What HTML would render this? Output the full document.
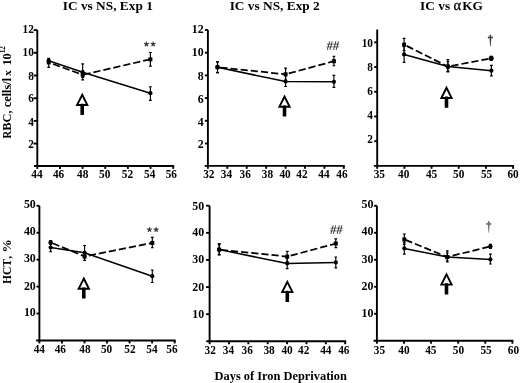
<!DOCTYPE html>
<html><head><meta charset="utf-8"><title>Figure</title>
<style>
html,body{margin:0;padding:0;background:#fff;}
body{width:520px;height:383px;overflow:hidden;font-family:"Liberation Serif",serif;}
svg{display:block;will-change:transform;font-family:"Liberation Serif",serif;}
.ax{fill:none;stroke:#000;stroke-width:1.9;stroke-linecap:butt;}
.tk{fill:none;stroke:#000;stroke-width:1.9;}
.lb{font-size:12.7px;font-weight:bold;fill:#000;}
.tt{font-size:13.35px;font-weight:bold;fill:#000;}
.at{font-size:12.4px;font-weight:bold;fill:#000;}
.ln{fill:none;stroke:#000;stroke-width:1.55;stroke-linejoin:round;}
.dash{stroke-dasharray:7.2 3;stroke-width:1.75;}
.eb{fill:none;stroke:#000;stroke-width:1.15;}
.mk{fill:#000;stroke:none;}
.ah{fill:#fff;stroke:#000;stroke-width:1.9;stroke-linejoin:miter;}
.st{fill:none;stroke:#333;stroke-width:1.15;stroke-linecap:round;}
.sg{font-size:13px;font-weight:bold;fill:#333;}
</style></head><body>
<svg width="520" height="383" viewBox="0 0 520 383">
<rect width="520" height="383" fill="#fff"/>
<text x="107.8" y="10.2" class="tt" text-anchor="middle">IC vs NS, Exp 1</text>
<text x="274.7" y="10.2" class="tt" text-anchor="middle">IC vs NS, Exp 2</text>
<text x="420.1" y="10.3" class="tt" text-anchor="start">IC vs <tspan font-weight="normal" font-size="14.4" stroke="#000" stroke-width="0.3">α</tspan><tspan dx="1.2">KG</tspan></text>
<text transform="translate(10.7 138.4) rotate(-90) scale(0.85 1)" class="at">R</text>
<text transform="translate(10.7 139.7) rotate(-90)" class="at"><tspan x="8.95">BC, cells/l</tspan><tspan x="63.8" font-size="11.4">x</tspan><tspan x="74.1">10</tspan><tspan x="86.4" dy="-5.3" font-size="7.2">12</tspan></text>
<text transform="translate(10.7 284.0) rotate(-90)" class="at"><tspan x="0" font-size="11.5">HCT</tspan><tspan dx="1.1" font-size="11.5">,</tspan><tspan x="31.6" font-size="13.2">%</tspan></text>
<text x="280.7" y="380.2" class="at" text-anchor="middle">Days of Iron Deprivation</text>
<path d="M37.30 30.10V166.00M34.00 166.00H174.15" class="ax"/>
<path d="M37.30 166.00v2.9" class="tk"/>
<text transform="translate(37.00 177.80) scale(0.89 1)" class="lb" text-anchor="middle">44</text>
<path d="M59.95 166.00v2.9" class="tk"/>
<text transform="translate(58.55 177.80) scale(0.89 1)" class="lb" text-anchor="middle">46</text>
<path d="M82.60 166.00v2.9" class="tk"/>
<text transform="translate(82.70 177.80) scale(0.89 1)" class="lb" text-anchor="middle">48</text>
<path d="M105.25 166.00v2.9" class="tk"/>
<text transform="translate(104.75 177.80) scale(0.89 1)" class="lb" text-anchor="middle">50</text>
<path d="M127.90 166.00v2.9" class="tk"/>
<text transform="translate(127.40 177.80) scale(0.89 1)" class="lb" text-anchor="middle">52</text>
<path d="M150.55 166.00v2.9" class="tk"/>
<text transform="translate(149.75 177.80) scale(0.89 1)" class="lb" text-anchor="middle">54</text>
<path d="M173.20 166.00v2.9" class="tk"/>
<text transform="translate(171.30 177.80) scale(0.89 1)" class="lb" text-anchor="middle">56</text>
<path d="M37.30 143.60h-3.7" class="tk"/>
<text transform="translate(33.90 147.50) scale(0.89 1)" class="lb" text-anchor="end">2</text>
<path d="M37.30 120.90h-3.7" class="tk"/>
<text transform="translate(33.90 125.50) scale(0.89 1)" class="lb" text-anchor="end">4</text>
<path d="M37.30 98.20h-3.7" class="tk"/>
<text transform="translate(33.90 102.40) scale(0.89 1)" class="lb" text-anchor="end">6</text>
<path d="M37.30 75.50h-3.7" class="tk"/>
<text transform="translate(33.90 79.50) scale(0.89 1)" class="lb" text-anchor="end">8</text>
<path d="M37.30 52.80h-3.7" class="tk"/>
<text transform="translate(33.90 56.20) scale(0.89 1)" class="lb" text-anchor="end">10</text>
<path d="M37.30 30.10h-3.7" class="tk"/>
<text transform="translate(33.90 33.30) scale(0.89 1)" class="lb" text-anchor="end">12</text>
<path d="M48.70 62.40L82.70 74.80" class="ln dash" style="stroke-dashoffset:5.55"/>
<path d="M82.70 74.80L150.40 59.30" class="ln dash" style="stroke-dashoffset:9.40"/>
<path d="M48.70 60.40V67.30M47.30 60.40h2.8M47.30 67.30h2.8" class="eb"/>
<rect x="46.70" y="60.40" width="4.0" height="4.0" class="mk"/>
<path d="M82.70 70.80V79.90M81.30 70.80h2.8M81.30 79.90h2.8" class="eb"/>
<rect x="80.70" y="72.80" width="4.0" height="4.0" class="mk"/>
<path d="M150.40 52.50V66.10M149.00 52.50h2.8M149.00 66.10h2.8" class="eb"/>
<rect x="148.40" y="57.30" width="4.0" height="4.0" class="mk"/>
<path d="M48.70 60.70 L82.70 72.30 L150.40 93.20" class="ln"/>
<path d="M48.70 58.40V63.00M47.30 58.40h2.8M47.30 63.00h2.8" class="eb"/>
<circle cx="48.70" cy="60.70" r="2.1" class="mk"/>
<path d="M82.70 63.90V77.30M81.30 63.90h2.8M81.30 77.30h2.8" class="eb"/>
<circle cx="82.70" cy="72.30" r="2.1" class="mk"/>
<path d="M150.40 86.70V100.40M149.00 86.70h2.8M149.00 100.40h2.8" class="eb"/>
<circle cx="150.40" cy="93.20" r="2.1" class="mk"/>
<path d="M82.20 94.80L87.35 105.05H77.05Z" class="ah"/>
<rect x="80.40" y="103.70" width="3.6" height="11.2" rx="0.6" class="mk"/>
<path d="M146.45 44.10L146.45 41.95M146.45 44.10L148.49 43.44M146.45 44.10L147.71 45.84M146.45 44.10L145.19 45.84M146.45 44.10L144.41 43.44" class="st"/>
<path d="M153.15 44.10L153.15 41.95M153.15 44.10L155.19 43.44M153.15 44.10L154.41 45.84M153.15 44.10L151.89 45.84M153.15 44.10L151.11 43.44" class="st"/>
<path d="M207.90 30.00V165.90M204.60 165.90H344.75" class="ax"/>
<path d="M207.90 165.90v2.9" class="tk"/>
<text transform="translate(208.80 177.70) scale(0.89 1)" class="lb" text-anchor="middle">32</text>
<path d="M227.31 165.90v2.9" class="tk"/>
<text transform="translate(226.51 177.70) scale(0.89 1)" class="lb" text-anchor="middle">34</text>
<path d="M246.73 165.90v2.9" class="tk"/>
<text transform="translate(245.13 177.70) scale(0.89 1)" class="lb" text-anchor="middle">36</text>
<path d="M266.14 165.90v2.9" class="tk"/>
<text transform="translate(267.44 177.70) scale(0.89 1)" class="lb" text-anchor="middle">38</text>
<path d="M285.56 165.90v2.9" class="tk"/>
<text transform="translate(285.06 177.70) scale(0.89 1)" class="lb" text-anchor="middle">40</text>
<path d="M304.97 165.90v2.9" class="tk"/>
<text transform="translate(301.97 177.70) scale(0.89 1)" class="lb" text-anchor="middle">42</text>
<path d="M324.39 165.90v2.9" class="tk"/>
<text transform="translate(323.89 177.70) scale(0.89 1)" class="lb" text-anchor="middle">44</text>
<path d="M343.80 165.90v2.9" class="tk"/>
<text transform="translate(342.00 177.70) scale(0.89 1)" class="lb" text-anchor="middle">46</text>
<path d="M207.90 143.50h-3.0" class="tk"/>
<text transform="translate(203.60 147.60) scale(0.89 1)" class="lb" text-anchor="end" style="font-size:13.3px">2</text>
<path d="M207.90 120.80h-3.0" class="tk"/>
<text transform="translate(203.60 126.10) scale(0.89 1)" class="lb" text-anchor="end" style="font-size:13.3px">4</text>
<path d="M207.90 98.10h-3.0" class="tk"/>
<text transform="translate(203.60 102.60) scale(0.89 1)" class="lb" text-anchor="end" style="font-size:13.3px">6</text>
<path d="M207.90 75.40h-3.0" class="tk"/>
<text transform="translate(203.60 80.00) scale(0.89 1)" class="lb" text-anchor="end" style="font-size:13.3px">8</text>
<path d="M207.90 52.70h-3.0" class="tk"/>
<text transform="translate(203.60 56.20) scale(0.89 1)" class="lb" text-anchor="end" style="font-size:13.3px">10</text>
<path d="M207.90 30.00h-3.0" class="tk"/>
<text transform="translate(203.60 33.20) scale(0.89 1)" class="lb" text-anchor="end" style="font-size:13.3px">12</text>
<path d="M217.50 67.20L285.60 74.30" class="ln dash" style="stroke-dashoffset:7.34"/>
<path d="M285.60 74.30L333.90 61.20" class="ln dash" style="stroke-dashoffset:6.90"/>
<path d="M217.50 61.80V72.60M216.10 61.80h2.8M216.10 72.60h2.8" class="eb"/>
<rect x="215.50" y="65.20" width="4.0" height="4.0" class="mk"/>
<path d="M285.60 68.10V79.80M284.20 68.10h2.8M284.20 79.80h2.8" class="eb"/>
<rect x="283.60" y="72.30" width="4.0" height="4.0" class="mk"/>
<path d="M333.90 56.20V65.70M332.50 56.20h2.8M332.50 65.70h2.8" class="eb"/>
<rect x="331.90" y="59.20" width="4.0" height="4.0" class="mk"/>
<path d="M217.50 67.20 L285.60 81.60 L333.90 81.80" class="ln"/>
<path d="M217.50 61.80V72.60M216.10 61.80h2.8M216.10 72.60h2.8" class="eb"/>
<circle cx="217.50" cy="67.20" r="2.1" class="mk"/>
<path d="M285.60 75.60V86.50M284.20 75.60h2.8M284.20 86.50h2.8" class="eb"/>
<circle cx="285.60" cy="81.60" r="2.1" class="mk"/>
<path d="M333.90 75.40V87.30M332.50 75.40h2.8M332.50 87.30h2.8" class="eb"/>
<circle cx="333.90" cy="81.80" r="2.1" class="mk"/>
<path d="M284.50 96.50L289.65 106.75H279.35Z" class="ah"/>
<rect x="282.70" y="105.40" width="3.6" height="11.2" rx="0.6" class="mk"/>
<text transform="translate(332.60 49.90) skewX(-5) scale(0.97 1.04)" class="sg" text-anchor="middle">##</text>
<path d="M377.20 29.40V165.90M373.90 165.90H514.05" class="ax"/>
<path d="M377.20 165.90v2.9" class="tk"/>
<text transform="translate(379.30 177.70) scale(0.89 1)" class="lb" text-anchor="middle">35</text>
<path d="M404.38 165.90v2.9" class="tk"/>
<text transform="translate(403.68 177.70) scale(0.89 1)" class="lb" text-anchor="middle">40</text>
<path d="M431.56 165.90v2.9" class="tk"/>
<text transform="translate(431.56 177.70) scale(0.89 1)" class="lb" text-anchor="middle">45</text>
<path d="M458.74 165.90v2.9" class="tk"/>
<text transform="translate(458.74 177.70) scale(0.89 1)" class="lb" text-anchor="middle">50</text>
<path d="M485.92 165.90v2.9" class="tk"/>
<text transform="translate(486.52 177.70) scale(0.89 1)" class="lb" text-anchor="middle">55</text>
<path d="M513.10 165.90v2.9" class="tk"/>
<text transform="translate(513.10 177.70) scale(0.89 1)" class="lb" text-anchor="middle">60</text>
<path d="M377.20 141.18h-3.0" class="tk"/>
<text transform="translate(373.00 143.48) scale(0.89 1)" class="lb" text-anchor="end">2</text>
<path d="M377.20 116.46h-3.0" class="tk"/>
<text transform="translate(373.00 119.06) scale(0.89 1)" class="lb" text-anchor="end">4</text>
<path d="M377.20 91.73h-3.0" class="tk"/>
<text transform="translate(373.00 95.13) scale(0.89 1)" class="lb" text-anchor="end">6</text>
<path d="M377.20 67.01h-3.0" class="tk"/>
<text transform="translate(373.00 71.01) scale(0.89 1)" class="lb" text-anchor="end">8</text>
<path d="M377.20 42.29h-3.0" class="tk"/>
<text transform="translate(373.00 46.69) scale(0.89 1)" class="lb" text-anchor="end">10</text>
<path d="M404.10 44.60L447.90 66.60" class="ln dash" style="stroke-dashoffset:7.30"/>
<path d="M447.90 66.60L491.20 58.30" class="ln dash" style="stroke-dashoffset:6.66"/>
<path d="M404.10 38.30V50.60M402.70 38.30h2.8M402.70 50.60h2.8" class="eb"/>
<rect x="402.10" y="42.60" width="4.0" height="4.0" class="mk"/>
<path d="M447.90 59.50V72.00M446.50 59.50h2.8M446.50 72.00h2.8" class="eb"/>
<rect x="445.90" y="64.60" width="4.0" height="4.0" class="mk"/>
<path d="M491.20 56.30V60.30M489.80 56.30h2.8M489.80 60.30h2.8" class="eb"/>
<circle cx="491.20" cy="58.30" r="2.5" class="mk"/>
<path d="M404.10 54.40 L447.90 66.40 L491.40 70.70" class="ln"/>
<path d="M404.10 46.40V62.30M402.70 46.40h2.8M402.70 62.30h2.8" class="eb"/>
<circle cx="404.10" cy="54.40" r="2.1" class="mk"/>
<path d="M447.90 61.40V71.40M446.50 61.40h2.8M446.50 71.40h2.8" class="eb"/>
<circle cx="447.90" cy="66.40" r="2.1" class="mk"/>
<path d="M491.40 65.40V75.90M490.00 65.40h2.8M490.00 75.90h2.8" class="eb"/>
<circle cx="491.40" cy="70.70" r="2.1" class="mk"/>
<path d="M446.50 87.70L451.65 97.95H441.35Z" class="ah"/>
<rect x="444.70" y="96.60" width="3.6" height="11.2" rx="0.6" class="mk"/>
<g fill="#3a3a3a"><circle cx="490.40" cy="35.60" r="0.95"/><circle cx="488.65" cy="37.50" r="0.9"/><circle cx="492.15" cy="37.50" r="0.9"/><path d="M489.95 35.60H490.85L491.20 37.50L491.20 39.10L490.65 46.40H490.15L489.60 39.10L489.60 37.50Z"/><rect x="488.10" y="37.05" width="4.6" height="0.9"/></g>
<path d="M39.40 205.80V340.50M36.10 340.50H175.65" class="ax"/>
<path d="M39.40 340.50v2.9" class="tk"/>
<text transform="translate(39.30 352.60) scale(0.89 1)" class="lb" text-anchor="middle">44</text>
<path d="M61.95 340.50v2.9" class="tk"/>
<text transform="translate(60.35 352.60) scale(0.89 1)" class="lb" text-anchor="middle">46</text>
<path d="M84.50 340.50v2.9" class="tk"/>
<text transform="translate(84.90 352.60) scale(0.89 1)" class="lb" text-anchor="middle">48</text>
<path d="M107.05 340.50v2.9" class="tk"/>
<text transform="translate(106.55 352.60) scale(0.89 1)" class="lb" text-anchor="middle">50</text>
<path d="M129.60 340.50v2.9" class="tk"/>
<text transform="translate(130.00 352.60) scale(0.89 1)" class="lb" text-anchor="middle">52</text>
<path d="M152.15 340.50v2.9" class="tk"/>
<text transform="translate(151.95 352.60) scale(0.89 1)" class="lb" text-anchor="middle">54</text>
<path d="M174.70 340.50v2.9" class="tk"/>
<text transform="translate(172.00 352.60) scale(0.89 1)" class="lb" text-anchor="middle">56</text>
<path d="M39.40 313.56h-2.9" class="tk"/>
<text transform="translate(35.80 316.16) scale(0.89 1)" class="lb" text-anchor="end" style="font-size:13.4px">10</text>
<path d="M39.40 286.62h-2.9" class="tk"/>
<text transform="translate(35.80 289.72) scale(0.89 1)" class="lb" text-anchor="end" style="font-size:13.4px">20</text>
<path d="M39.40 259.68h-2.9" class="tk"/>
<text transform="translate(35.80 262.08) scale(0.89 1)" class="lb" text-anchor="end" style="font-size:13.4px">30</text>
<path d="M39.40 232.74h-2.9" class="tk"/>
<text transform="translate(35.80 234.84) scale(0.89 1)" class="lb" text-anchor="end" style="font-size:13.4px">40</text>
<path d="M39.40 205.80h-2.9" class="tk"/>
<text transform="translate(35.80 208.40) scale(0.89 1)" class="lb" text-anchor="end" style="font-size:13.4px">50</text>
<path d="M50.65 242.50L84.60 256.40" class="ln dash" style="stroke-dashoffset:8.10"/>
<path d="M84.60 256.40L152.30 242.90" class="ln dash" style="stroke-dashoffset:5.90"/>
<path d="M50.65 240.50V244.50M49.25 240.50h2.8M49.25 244.50h2.8" class="eb"/>
<circle cx="50.65" cy="242.50" r="2.3" class="mk"/>
<path d="M84.60 252.40V260.40M83.20 252.40h2.8M83.20 260.40h2.8" class="eb"/>
<rect x="82.60" y="254.40" width="4.0" height="4.0" class="mk"/>
<path d="M152.30 237.40V247.70M150.90 237.40h2.8M150.90 247.70h2.8" class="eb"/>
<rect x="150.30" y="240.90" width="4.0" height="4.0" class="mk"/>
<path d="M50.65 247.50 L84.60 252.80 L152.30 276.20" class="ln"/>
<path d="M50.65 243.50V251.70M49.25 243.50h2.8M49.25 251.70h2.8" class="eb"/>
<circle cx="50.65" cy="247.50" r="2.1" class="mk"/>
<path d="M84.60 245.50V257.80M83.20 245.50h2.8M83.20 257.80h2.8" class="eb"/>
<circle cx="84.60" cy="252.80" r="2.1" class="mk"/>
<path d="M152.30 270.00V282.50M150.90 270.00h2.8M150.90 282.50h2.8" class="eb"/>
<circle cx="152.30" cy="276.20" r="2.1" class="mk"/>
<path d="M83.80 278.50L88.95 288.75H78.65Z" class="ah"/>
<rect x="82.00" y="287.40" width="3.6" height="11.2" rx="0.6" class="mk"/>
<path d="M149.45 229.60L149.45 227.45M149.45 229.60L151.49 228.94M149.45 229.60L150.71 231.34M149.45 229.60L148.19 231.34M149.45 229.60L147.41 228.94" class="st"/>
<path d="M156.15 229.60L156.15 227.45M156.15 229.60L158.19 228.94M156.15 229.60L157.41 231.34M156.15 229.60L154.89 231.34M156.15 229.60L154.11 228.94" class="st"/>
<path d="M209.60 205.70V341.30M206.30 341.30H346.15" class="ax"/>
<path d="M209.60 341.30v2.9" class="tk"/>
<text transform="translate(210.25 353.90) scale(0.89 1)" class="lb" text-anchor="middle">32</text>
<path d="M228.97 341.30v2.9" class="tk"/>
<text transform="translate(228.37 353.90) scale(0.89 1)" class="lb" text-anchor="middle">34</text>
<path d="M248.34 341.30v2.9" class="tk"/>
<text transform="translate(247.14 353.90) scale(0.89 1)" class="lb" text-anchor="middle">36</text>
<path d="M267.71 341.30v2.9" class="tk"/>
<text transform="translate(269.11 353.90) scale(0.89 1)" class="lb" text-anchor="middle">38</text>
<path d="M287.09 341.30v2.9" class="tk"/>
<text transform="translate(287.09 353.90) scale(0.89 1)" class="lb" text-anchor="middle">40</text>
<path d="M306.46 341.30v2.9" class="tk"/>
<text transform="translate(303.66 353.90) scale(0.89 1)" class="lb" text-anchor="middle">42</text>
<path d="M325.83 341.30v2.9" class="tk"/>
<text transform="translate(325.83 353.90) scale(0.89 1)" class="lb" text-anchor="middle">44</text>
<path d="M345.20 341.30v2.9" class="tk"/>
<text transform="translate(343.80 353.90) scale(0.89 1)" class="lb" text-anchor="middle">46</text>
<path d="M209.60 314.18h-3.5" class="tk"/>
<text transform="translate(204.10 318.48) scale(0.89 1)" class="lb" text-anchor="end" style="font-size:13.4px">10</text>
<path d="M209.60 287.06h-3.5" class="tk"/>
<text transform="translate(204.10 290.96) scale(0.89 1)" class="lb" text-anchor="end" style="font-size:13.4px">20</text>
<path d="M209.60 259.94h-3.5" class="tk"/>
<text transform="translate(204.10 263.14) scale(0.89 1)" class="lb" text-anchor="end" style="font-size:13.4px">30</text>
<path d="M209.60 232.82h-3.5" class="tk"/>
<text transform="translate(204.10 235.72) scale(0.89 1)" class="lb" text-anchor="end" style="font-size:13.4px">40</text>
<path d="M209.60 205.70h-3.5" class="tk"/>
<text transform="translate(204.10 209.60) scale(0.89 1)" class="lb" text-anchor="end" style="font-size:13.4px">50</text>
<path d="M219.20 249.60L287.20 256.60" class="ln dash" style="stroke-dashoffset:8.60"/>
<path d="M287.20 256.60L335.80 243.50" class="ln dash" style="stroke-dashoffset:6.60"/>
<path d="M219.20 244.60V254.60M217.80 244.60h2.8M217.80 254.60h2.8" class="eb"/>
<rect x="217.20" y="247.60" width="4.0" height="4.0" class="mk"/>
<path d="M287.20 251.30V261.60M285.80 251.30h2.8M285.80 261.60h2.8" class="eb"/>
<rect x="285.20" y="254.60" width="4.0" height="4.0" class="mk"/>
<path d="M335.80 238.80V247.60M334.40 238.80h2.8M334.40 247.60h2.8" class="eb"/>
<rect x="333.80" y="241.50" width="4.0" height="4.0" class="mk"/>
<path d="M219.20 249.60 L287.20 263.50 L335.80 262.40" class="ln"/>
<path d="M219.20 243.60V255.00M217.80 243.60h2.8M217.80 255.00h2.8" class="eb"/>
<circle cx="219.20" cy="249.60" r="2.1" class="mk"/>
<path d="M287.20 258.00V268.60M285.80 258.00h2.8M285.80 268.60h2.8" class="eb"/>
<circle cx="287.20" cy="263.50" r="2.1" class="mk"/>
<path d="M335.80 257.00V267.90M334.40 257.00h2.8M334.40 267.90h2.8" class="eb"/>
<circle cx="335.80" cy="262.40" r="2.1" class="mk"/>
<path d="M287.30 281.90L292.45 292.15H282.15Z" class="ah"/>
<rect x="285.50" y="290.80" width="3.6" height="11.2" rx="0.6" class="mk"/>
<text transform="translate(336.00 234.20) skewX(-5) scale(0.97 1.04)" class="sg" text-anchor="middle">##</text>
<path d="M376.90 205.80V340.80M373.60 340.80H513.35" class="ax"/>
<path d="M376.90 340.80v2.9" class="tk"/>
<text transform="translate(379.50 354.40) scale(0.89 1)" class="lb" text-anchor="middle">35</text>
<path d="M404.00 340.80v2.9" class="tk"/>
<text transform="translate(404.00 354.40) scale(0.89 1)" class="lb" text-anchor="middle">40</text>
<path d="M431.10 340.80v2.9" class="tk"/>
<text transform="translate(430.80 354.40) scale(0.89 1)" class="lb" text-anchor="middle">45</text>
<path d="M458.20 340.80v2.9" class="tk"/>
<text transform="translate(458.50 354.40) scale(0.89 1)" class="lb" text-anchor="middle">50</text>
<path d="M485.30 340.80v2.9" class="tk"/>
<text transform="translate(486.10 354.40) scale(0.89 1)" class="lb" text-anchor="middle">55</text>
<path d="M512.40 340.80v2.9" class="tk"/>
<text transform="translate(513.40 354.40) scale(0.89 1)" class="lb" text-anchor="middle">60</text>
<path d="M376.90 313.80h-2.8" class="tk"/>
<text transform="translate(373.40 317.00) scale(0.89 1)" class="lb" text-anchor="end" style="font-size:13.4px">10</text>
<path d="M376.90 286.80h-2.8" class="tk"/>
<text transform="translate(373.40 290.00) scale(0.89 1)" class="lb" text-anchor="end" style="font-size:13.4px">20</text>
<path d="M376.90 259.80h-2.8" class="tk"/>
<text transform="translate(373.40 263.00) scale(0.89 1)" class="lb" text-anchor="end" style="font-size:13.4px">30</text>
<path d="M376.90 232.80h-2.8" class="tk"/>
<text transform="translate(373.40 235.40) scale(0.89 1)" class="lb" text-anchor="end" style="font-size:13.4px">40</text>
<path d="M376.90 205.80h-2.8" class="tk"/>
<text transform="translate(373.40 207.90) scale(0.89 1)" class="lb" text-anchor="end" style="font-size:13.4px">50</text>
<path d="M404.30 239.40L447.30 257.00" class="ln dash" style="stroke-dashoffset:8.90"/>
<path d="M447.30 257.00L490.40 246.40" class="ln dash" style="stroke-dashoffset:4.70"/>
<path d="M404.30 234.00V244.40M402.90 234.00h2.8M402.90 244.40h2.8" class="eb"/>
<rect x="402.30" y="237.40" width="4.0" height="4.0" class="mk"/>
<path d="M447.30 250.80V262.00M445.90 250.80h2.8M445.90 262.00h2.8" class="eb"/>
<rect x="445.30" y="255.00" width="4.0" height="4.0" class="mk"/>
<path d="M490.40 244.40V248.40M489.00 244.40h2.8M489.00 248.40h2.8" class="eb"/>
<ellipse cx="490.40" cy="246.40" rx="2.15" ry="2.6" class="mk"/>
<path d="M404.30 248.40 L447.30 257.00 L490.40 259.40" class="ln"/>
<path d="M404.30 242.40V254.10M402.90 242.40h2.8M402.90 254.10h2.8" class="eb"/>
<circle cx="404.30" cy="248.40" r="2.1" class="mk"/>
<path d="M447.30 253.00V261.00M445.90 253.00h2.8M445.90 261.00h2.8" class="eb"/>
<circle cx="447.30" cy="257.00" r="2.1" class="mk"/>
<path d="M490.40 254.10V264.00M489.00 254.10h2.8M489.00 264.00h2.8" class="eb"/>
<circle cx="490.40" cy="259.40" r="2.1" class="mk"/>
<path d="M446.50 274.40L451.65 284.65H441.35Z" class="ah"/>
<rect x="444.70" y="283.30" width="3.6" height="11.2" rx="0.6" class="mk"/>
<g fill="#6a6a6a"><circle cx="488.80" cy="222.00" r="0.95"/><circle cx="487.05" cy="223.90" r="0.9"/><circle cx="490.55" cy="223.90" r="0.9"/><path d="M488.35 222.00H489.25L489.60 223.90L489.60 225.50L489.05 232.80H488.55L488.00 225.50L488.00 223.90Z"/><rect x="486.50" y="223.45" width="4.6" height="0.9"/></g>
</svg>
</body></html>
